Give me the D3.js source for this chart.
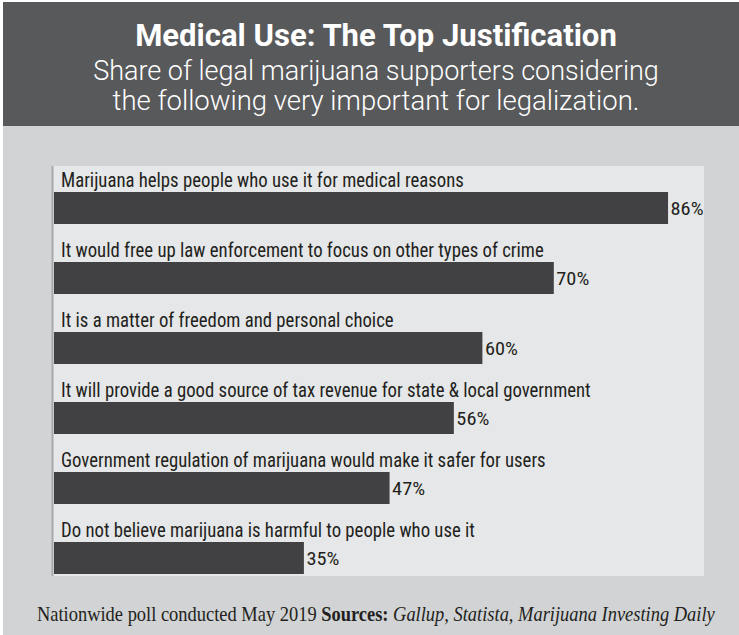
<!DOCTYPE html>
<html>
<head>
<meta charset="utf-8">
<script src="https://cdn.jsdelivr.net/npm/d3@7"></script>
<style>
  html, body { margin: 0; padding: 0; background: #ffffff; }
  svg { display: block; }
</style>
</head>
<body>
<svg id="chart" width="739" height="635"></svg>
<script>
// ---- data ----
const categories = [
  "Marijuana helps people who use it for medical reasons",
  "It would free up law enforcement to focus on other types of crime",
  "It is a matter of freedom and personal choice",
  "It will provide a good source of tax revenue for state & local government",
  "Government regulation of marijuana would make it safer for users",
  "Do not believe marijuana is harmful to people who use it"
];
const values = [86, 70, 60, 56, 47, 35];
const titleText = "Medical Use: The Top Justification";
const subtitleLines = [
  "Share of legal marijuana supporters considering",
  "the following very important for legalization."
];
const footerParts = [
  { text: "Nationwide poll conducted May 2019 ", weight: "normal", style: "normal" },
  { text: "Sources: ", weight: "bold", style: "normal" },
  { text: "Gallup, Statista, Marijuana Investing Daily", weight: "normal", style: "italic" }
];

// ---- layout ----
const W = 739, H = 635;
const svg = d3.select("#chart");
const sans = "'Liberation Sans Narrow', 'Roboto Condensed', Roboto, 'Liberation Sans', sans-serif";
const headSans = "Roboto, 'Open Sans', 'Liberation Sans', sans-serif";
const serif = "'Liberation Serif', 'DejaVu Serif', serif";

function fitX(sel, targetW) {
  const w = sel.node().getComputedTextLength();
  const k = targetW / w;
  const ox = +sel.attr("x");
  sel.attr("transform", `translate(${ox},0) scale(${k},1) translate(${-ox},0)`);
  return k;
}

// background frame
svg.append("rect").attr("x", 0).attr("y", 0).attr("width", W).attr("height", H).attr("fill", "#ffffff");
svg.append("rect").attr("x", 3).attr("y", 2).attr("width", W - 3).attr("height", H - 2).attr("fill", "#d1d3d4");
// header
svg.append("rect").attr("x", 3).attr("y", 2).attr("width", W - 3).attr("height", 124).attr("fill", "#58595b");

const cx = 376;
const t = svg.append("text")
  .attr("x", cx).attr("y", 46)
  .attr("text-anchor", "middle")
  .attr("fill", "#ffffff")
  .style("font-family", headSans).style("font-weight", "700").style("font-size", "32px")
  .text(titleText);
fitX(t, 482);

const subY = [80, 110], subW = [566, 527];
subtitleLines.forEach((s, i) => {
  const st = svg.append("text")
    .attr("x", cx).attr("y", subY[i])
    .attr("text-anchor", "middle")
    .attr("fill", "#ffffff")
    .style("font-family", headSans).style("font-weight", "300").style("font-size", "27px")
    .text(s);
  fitX(st, subW[i]);
});

// panel
const panel = { x0: 52, x1: 704, y0: 166, y1: 576 };
svg.append("rect")
  .attr("x", panel.x0).attr("y", panel.y0)
  .attr("width", panel.x1 - panel.x0).attr("height", panel.y1 - panel.y0)
  .attr("fill", "#e6e7e8");

const x = d3.scaleLinear().domain([0, 100]).range([54, 768]);
const y = d3.scaleBand().domain(categories).range([192 - 38, 574]).paddingInner(0).paddingOuter(0);
const barH = 32;
const barTop = d => y(d) + y.bandwidth() - barH;

const rows = svg.append("g").selectAll("g").data(categories).join("g");

rows.append("rect")
  .attr("x", x(0))
  .attr("y", d => barTop(d))
  .attr("width", (d, i) => x(values[i]) - x(0))
  .attr("height", barH)
  .attr("fill", "#414042");

// category labels
const labelSel = rows.append("text")
  .attr("x", 61)
  .attr("y", d => barTop(d) - 5)
  .attr("fill", "#231f20")
  .style("font-family", sans).style("font-size", "20px")
  .text(d => d);
const w0 = labelSel.nodes()[0].getComputedTextLength();
const kLab = 403 / w0;
labelSel.each(function () {
  const s = d3.select(this);
  const ox = +s.attr("x");
  s.attr("transform", `translate(${ox},0) scale(${kLab},1) translate(${-ox},0)`);
});

// value labels
const valSel = rows.append("text")
  .attr("x", (d, i) => x(values[i]) + 2.5)
  .attr("y", d => barTop(d) + barH - 9)
  .attr("fill", "#231f20")
  .style("font-family", sans).style("font-size", "19px")
  .text((d, i) => values[i] + "%");
const wv = valSel.nodes()[0].getComputedTextLength();
const kVal = 33 / wv;
valSel.each(function () {
  const s = d3.select(this);
  const ox = +s.attr("x");
  s.attr("transform", `translate(${ox},0) scale(${kVal},1) translate(${-ox},0)`);
});

// left border of panel
svg.append("line")
  .attr("x1", panel.x0 + 0.5).attr("x2", panel.x0 + 0.5)
  .attr("y1", panel.y0).attr("y2", panel.y1)
  .attr("stroke", "#a7a9ac").attr("stroke-width", 2);

// footer
const ft = svg.append("text")
  .attr("x", 37).attr("y", 621)
  .attr("fill", "#231f20")
  .style("font-family", serif).style("font-size", "21px");
footerParts.forEach(p => {
  ft.append("tspan").style("font-weight", p.weight).style("font-style", p.style).text(p.text);
});
const fw = ft.node().getBBox().width;
const kf = 679 / fw;
ft.attr("transform", `translate(37,0) scale(${kf},1) translate(-37,0)`);
</script>
</body>
</html>
